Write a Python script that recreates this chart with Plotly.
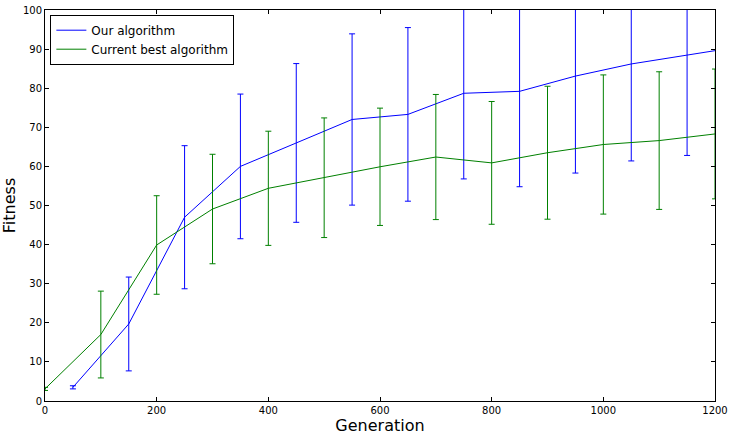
import plotly.graph_objects as go

# Our algorithm
ours_x = [50, 150, 250, 350, 450, 550, 650, 750, 850, 950, 1050, 1150, 1200]
ours_y = [3.5, 19.7, 47.0, 60.0, 66.0, 72.0, 73.3, 78.7, 79.2, 83.1, 86.2, 88.4, 89.6]
ours_err = [0.4, 12.0, 18.3, 18.5, 20.3, 21.9, 22.2, 21.9, 24.4, 24.8, 24.8, 25.6, None]

# Current best algorithm
best_x = [0, 100, 200, 300, 400, 500, 600, 700, 800, 900, 1000, 1100, 1200]
best_y = [3.1, 17.0, 39.9, 49.1, 54.4, 57.1, 59.9, 62.4, 60.9, 63.5, 65.6, 66.6, 68.3]
best_err = [0.4, 11.1, 12.6, 14.0, 14.6, 15.3, 15.0, 16.0, 15.7, 17.0, 17.8, 17.6, 16.6]

x_ticks = [0, 200, 400, 600, 800, 1000, 1200]
y_ticks = [0, 10, 20, 30, 40, 50, 60, 70, 80, 90, 100]

BLUE = "#0000ff"
GREEN = "#008000"

fig = go.Figure()

# error bars only (no line) for our algorithm, excluding points without error
ex = [x for x, e in zip(ours_x, ours_err) if e is not None]
ey = [y for y, e in zip(ours_y, ours_err) if e is not None]
ee = [e for e in ours_err if e is not None]
fig.add_trace(go.Scatter(x=ex, y=ey, mode="markers", marker=dict(size=0.1, color=BLUE, opacity=0),
                         error_y=dict(type="data", array=ee, visible=True, color=BLUE, thickness=1, width=3),
                         showlegend=False, hoverinfo="skip"))
fig.add_trace(go.Scatter(x=ours_x, y=ours_y, mode="lines", name="Our algorithm",
                         line=dict(color=BLUE, width=1)))

fig.add_trace(go.Scatter(x=best_x, y=best_y, mode="lines", name="Current best algorithm",
                         line=dict(color=GREEN, width=1),
                         error_y=dict(type="data", array=best_err, visible=True, color=GREEN, thickness=1, width=3)))

axis_common = dict(showgrid=False, zeroline=False, showline=True, linecolor="black", linewidth=1,
                   mirror="ticks", ticks="inside", ticklen=4, tickcolor="black", automargin=False,
                   tickfont=dict(family="DejaVu Sans", size=10, color="black"))

fig.update_layout(
    width=734, height=437,
    margin=dict(l=45, r=19, t=10, b=36),
    paper_bgcolor="white", plot_bgcolor="white",
    font=dict(family="DejaVu Sans", color="black"),
    xaxis=dict(range=[0, 1200], tickvals=x_ticks, ticktext=[str(v) for v in x_ticks],
               title=dict(text="Generation", font=dict(size=16), standoff=2), **axis_common),
    yaxis=dict(range=[0, 100], tickvals=y_ticks, ticktext=[str(v) for v in y_ticks],
               title=dict(text="Fitness", font=dict(size=16), standoff=4), **axis_common),
    legend=dict(x=0.008, y=0.988, xanchor="left", yanchor="top", bgcolor="white",
                bordercolor="black", borderwidth=1, font=dict(size=12, family="DejaVu Sans"),
                tracegroupgap=0),
    showlegend=True,
)

fig.write_html("out.html", config={"displayModeBar": False},
               post_script="document.body.style.margin='0';document.body.style.padding='0';")
